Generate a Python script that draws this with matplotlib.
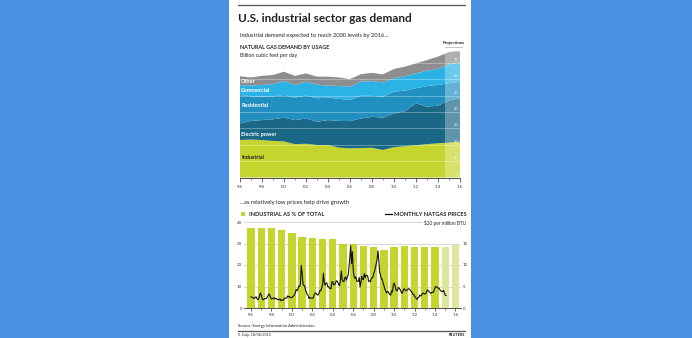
import matplotlib
matplotlib.use("Agg")
import matplotlib.pyplot as plt
import numpy as np
from matplotlib.patches import Rectangle
from matplotlib.lines import Line2D

plt.rcParams["font.family"] = ["Lato", "DejaVu Sans"]

# ---- data ----
years = list(range(1996, 2017))
# natural gas demand by usage, billion cubic feet per day
industrial = [22.9, 23.1, 22.8, 22.3, 22.0, 20.3, 20.6, 19.8, 19.8, 18.2, 17.8,
              18.0, 18.1, 16.8, 18.5, 19.1, 19.7, 20.3, 20.9, 21.2, 21.8]
electric = [10.1, 11.4, 12.2, 13.2, 14.5, 14.7, 15.4, 14.2, 15.2, 16.3, 16.6,
            18.0, 18.9, 19.7, 20.5, 21.4, 25.5, 22.9, 22.9, 25.8, 26.5]
residential = [17.3, 15.0, 14.3, 14.0, 13.8, 13.7, 14.0, 14.3, 13.7, 13.5, 12.9,
               13.9, 12.8, 12.8, 13.3, 12.5, 9.2, 12.6, 12.6, 10.5, 10.1]
commercial = [6.0, 6.7, 7.1, 7.5, 8.5, 7.7, 8.4, 8.3, 7.3, 7.8, 8.1,
              8.6, 9.0, 8.7, 8.2, 8.8, 9.1, 9.4, 9.8, 11.5, 11.8]
other = [5.4, 4.8, 5.6, 5.5, 5.7, 5.6, 5.1, 4.9, 5.5, 5.2, 4.6,
         4.5, 5.0, 4.9, 5.7, 5.8, 6.1, 6.4, 7.5, 7.5, 6.9]
projection_start = 2014.6

# industrial share of total demand, %
industrial_share = [37.4, 37.4, 37.4, 36.1, 34.9, 33.0, 32.7, 32.0, 32.3, 30.0, 30.0,
                    28.9, 28.4, 27.2, 28.4, 28.7, 28.4, 28.4, 28.4, 28.2, 29.4]
share_projected = [False] * 19 + [True, True]

# monthly natural gas prices, $ per million BTU (Jan 1996 onward)
gas_price_monthly = [
    [2.6, 2.5, 2.4, 2.3, 2.2, 2.5, 2.6, 2.2, 1.9, 2.2, 2.9, 3.5],
    [3.0, 2.2, 1.9, 2.0, 2.2, 2.2, 2.2, 2.5, 2.9, 3.3, 3.0, 2.4],
    [2.1, 2.2, 2.2, 2.4, 2.1, 2.2, 2.2, 1.9, 2.0, 1.9, 2.1, 1.7],
    [1.9, 1.8, 1.8, 2.2, 2.3, 2.3, 2.3, 2.8, 2.6, 2.7, 2.4, 2.4],
    [2.4, 2.7, 2.8, 3.0, 3.6, 4.3, 4.0, 4.4, 5.1, 5.0, 5.5, 9.9],
    [8.2, 5.6, 5.2, 5.2, 4.2, 3.7, 3.1, 3.0, 2.2, 2.5, 2.3, 2.3],
    [2.3, 2.3, 3.0, 3.4, 3.5, 3.3, 3.0, 3.1, 3.6, 4.1, 4.0, 4.7],
    [5.4, 8.1, 5.9, 5.3, 5.8, 5.8, 5.0, 5.0, 4.6, 4.6, 4.5, 6.1],
    [6.1, 5.4, 5.4, 5.7, 6.3, 6.3, 5.9, 5.4, 5.2, 6.4, 8.6, 6.6],
    [6.2, 6.1, 7.0, 7.2, 6.5, 7.2, 7.6, 9.5, 11.8, 14.5, 10.3, 13.1],
    [8.7, 7.5, 6.9, 7.2, 6.3, 6.2, 6.2, 7.1, 4.9, 5.9, 7.4, 6.7],
    [6.6, 8.0, 7.1, 7.6, 7.6, 7.4, 6.2, 6.3, 6.1, 6.7, 7.1, 7.1],
    [8.0, 8.5, 9.4, 10.2, 11.3, 13.3, 11.1, 8.3, 7.7, 6.7, 6.7, 5.8],
    [5.2, 4.5, 4.0, 3.5, 3.8, 3.8, 3.4, 3.1, 3.0, 4.0, 3.7, 5.4],
    [5.8, 5.3, 4.3, 4.0, 4.1, 4.8, 4.6, 4.3, 3.9, 3.4, 3.7, 4.3],
    [4.5, 4.1, 4.0, 4.2, 4.3, 4.5, 4.4, 4.1, 3.9, 3.6, 3.2, 3.2],
    [2.7, 2.5, 2.2, 2.0, 2.4, 2.5, 3.0, 2.8, 2.9, 3.3, 3.5, 3.3],
    [3.3, 3.3, 3.8, 4.2, 4.0, 3.8, 3.6, 3.4, 3.6, 3.7, 3.6, 4.2],
    [4.7, 5.0, 4.9, 4.7, 4.6, 4.6, 4.1, 3.9, 3.9, 3.8, 4.1, 3.5],
    [3.0, 2.9],
]

# ---- styling ----
BG = "#4a90e2"
C_IND, C_ELEC, C_RES, C_COM, C_OTH = "#c6d52d", "#1a6886", "#2190c0", "#2cb3e6", "#8e8e90"
C_IND_PROJ = "#dde69c"
TXT = "#222222"
W, H = 692, 338


def fx(x):
    return x / W


def fy(y):
    return 1 - y / H


def yr_label(y):
    return "'" + str(y)[2:]


fig = plt.figure(figsize=(W / 100, H / 100), dpi=100)
fig.patch.set_facecolor(BG)
fig.patches.append(Rectangle((fx(229), 0), fx(242), 1, transform=fig.transFigure,
                             facecolor="white", edgecolor="none", zorder=-5))

# header
fig.add_artist(Line2D([fx(238), fx(465)], [fy(5), fy(5)], color="#555555", lw=0.9))
fig.text(fx(237.5), fy(18.5), "U.S. industrial sector gas demand", fontsize=8.5,
         fontweight="bold", color=TXT, va="center")
fig.text(fx(239.5), fy(35), "Industrial demand expected to reach 2000 levels by 2016...",
         fontsize=4.15, color=TXT, va="center")
fig.text(fx(239.5), fy(47.3), "NATURAL GAS DEMAND BY USAGE", fontsize=3.9,
         fontweight="bold", color=TXT, va="center")
fig.text(fx(239.5), fy(55.5), "Billion cubic feet per day", fontsize=3.8, color=TXT, va="center")
fig.text(fx(453.8), fy(42.7), "Projections", fontsize=3.2, fontweight="bold",
         color=TXT, ha="center", va="center")
fig.add_artist(Line2D([fx(445), fx(462)], [fy(46.5), fy(46.5)], color="#999999", lw=0.4))

# ---- top: stacked areas ----
ax1 = fig.add_axes([fx(240), fy(177.5), 220 / W, 131.2 / H])
ax1.stackplot(years, industrial, electric, residential, commercial, other,
              colors=[C_IND, C_ELEC, C_RES, C_COM, C_OTH], lw=0)
ax1.axvspan(projection_start, years[-1], color="white", alpha=0.3, lw=0)
ax1.set_xlim(years[0], years[-1])
ax1.set_ylim(0, 80)
for v in range(10, 80, 10):
    ax1.axhline(v, color="white", lw=0.5, alpha=0.45)
for v in range(0, 80, 10):
    ax1.text(years[-1] - 0.1, v + 0.6, str(v), fontsize=3.0, color="white", alpha=0.85,
             ha="right", va="bottom")
for s in ["top", "right", "left"]:
    ax1.spines[s].set_visible(False)
ax1.spines["bottom"].set_color("#333333")
ax1.spines["bottom"].set_linewidth(0.6)
ax1.set_yticks([])
ax1.set_xticks(years[::2])
ax1.set_xticks(years, minor=True)
ax1.set_xticklabels([yr_label(y) for y in years[::2]])
ax1.tick_params(axis="x", which="major", length=3, width=0.5, color="#333333",
                labelsize=3.2, labelcolor="#333333", pad=2.5)
ax1.tick_params(axis="x", which="minor", length=1.5, width=0.4, color="#333333")
ax1.set_facecolor("none")

lab_kw = dict(fontsize=4.0, fontweight="bold", va="center", ha="left", zorder=6)
ax1.text(1996.1, 58.6, "Other", color="white", **lab_kw)
ax1.text(1996.1, 53.3, "Commercial", color="white", **lab_kw)
ax1.text(1996.1, 43.6, "Residential", color="white", **lab_kw)
ax1.text(1996.1, 26.5, "Electric power", color="white", **lab_kw)
ax1.text(1996.1, 12.1, "Industrial", color=TXT, **lab_kw)

# ---- bottom: bars + price line ----
fig.text(fx(239.5), fy(202.3), "...as relatively low prices help drive growth",
         fontsize=4.2, color=TXT, va="center")
fig.patches.append(Rectangle((fx(240.5), fy(216)), 4.5 / W, 4.5 / H,
                             transform=fig.transFigure, facecolor=C_IND, edgecolor="none"))
fig.text(fx(248.5), fy(214), "INDUSTRIAL AS % OF TOTAL", fontsize=4.05,
         fontweight="bold", color=TXT, va="center")
fig.add_artist(Line2D([fx(384.5), fx(392)], [fy(214), fy(214)], color="black", lw=0.9))
fig.text(fx(466.3), fy(214), "MONTHLY NATGAS PRICES", fontsize=4.1,
         fontweight="bold", color=TXT, va="center", ha="right")
fig.text(fx(466.3), fy(222.5), "$20 per million BTU", fontsize=3.4,
         color=TXT, va="center", ha="right")

ax2 = fig.add_axes([fx(244), fy(308), 217 / W, 86 / H])
ax2.set_xlim(1995.315, 2016.54)
ax2.set_ylim(0, 40)
for v in (10, 20, 30):
    ax2.axhline(v, color="#c8c8c8", lw=0.5, zorder=0)
ax2.axhline(40, xmax=0.82, color="#c8c8c8", lw=0.5, zorder=0)
bar_colors = [C_IND_PROJ if p else C_IND for p in share_projected]
ax2.bar(years, industrial_share, width=0.72, color=bar_colors, zorder=1)
for s in ["top", "right", "left"]:
    ax2.spines[s].set_visible(False)
ax2.spines["bottom"].set_color("#333333")
ax2.spines["bottom"].set_linewidth(0.6)
ax2.set_yticks([0, 10, 20, 30, 40])
ax2.tick_params(axis="y", length=0, labelsize=3.2, labelcolor="#333333", pad=1.5)
ax2.set_xticks(years[::2])
ax2.set_xticks(years, minor=True)
ax2.set_xticklabels([yr_label(y) for y in years[::2]])
ax2.tick_params(axis="x", which="major", length=2.2, width=0.5, color="#333333",
                labelsize=3.2, labelcolor="#333333", pad=1.5)
ax2.tick_params(axis="x", which="minor", length=1.2, width=0.4, color="#333333")

ax3 = ax2.twinx()
prices = np.concatenate([np.array(row, dtype=float) for row in gas_price_monthly])
months = years[0] + np.arange(len(prices)) / 12
ax3.plot(months, prices, color="#111111", lw=0.8, zorder=3)
ax3.set_ylim(0, 20)
ax3.set_yticks([0, 5, 10, 15])
ax3.tick_params(axis="y", length=0, labelsize=3.2, labelcolor="#333333", pad=1.5)
for s in ["top", "right", "left", "bottom"]:
    ax3.spines[s].set_visible(False)

# footer
fig.text(fx(238), fy(325.7), "Source: Energy Information Administration", fontsize=3.0,
         color=TXT, va="center")
fig.add_artist(Line2D([fx(238), fx(465)], [fy(330.7), fy(330.7)], color="#555555", lw=0.9))
fig.text(fx(238), fy(334.7), "S. Culp, 18/06/2015", fontsize=2.6, color=TXT, va="center")
fig.text(fx(465), fy(334.7), "REUTERS", fontsize=2.8, fontweight="bold", color=TXT,
         va="center", ha="right")

fig.savefig("out.png", dpi=100, facecolor=fig.get_facecolor())
